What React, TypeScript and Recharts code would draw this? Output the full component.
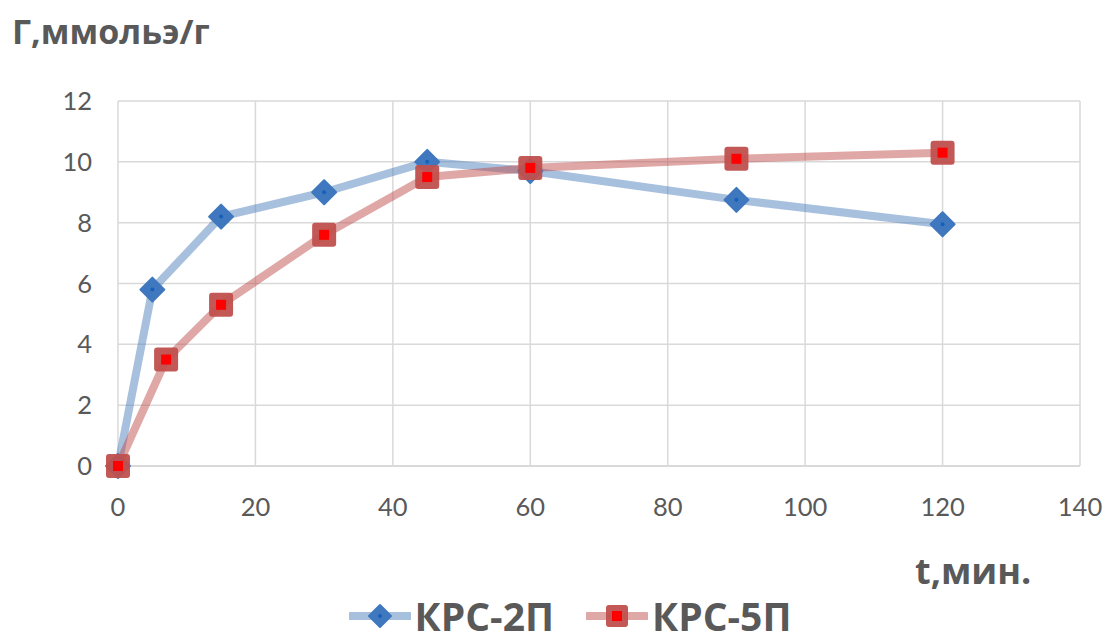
import React from "react";
import {
  LineChart,
  Line,
  XAxis,
  YAxis,
  CartesianGrid,
  Legend,
} from "recharts";

// КРС-2П: sorption capacity over time
const krs2Time = [0, 5, 15, 30, 45, 60, 90, 120];
const krs2Value = [0, 5.8, 8.2, 9.0, 10.0, 9.7, 8.75, 7.95];

// КРС-5П
const krs5Time = [0, 7, 15, 30, 45, 60, 90, 120];
const krs5Value = [0, 3.5, 5.3, 7.6, 9.5, 9.8, 10.1, 10.3];

const xTicks = [0, 20, 40, 60, 80, 100, 120, 140];
const yTicks = [0, 2, 4, 6, 8, 10, 12];

const krs2Data = krs2Time.map((t, i) => ({ t, v: krs2Value[i] }));
const krs5Data = krs5Time.map((t, i) => ({ t, v: krs5Value[i] }));

const BLUE = "#4f81bd";
const BLUE_MARK = "#3f78be";
const RED = "#c0504d";
const TEXT = "#595959";
const TITLE_FONT = "'Open Sans', 'Noto Sans', sans-serif";
const TICK_FONT = "Lato, 'Open Sans', sans-serif";

function Diamond({ cx, cy, size = 12 }: { cx: number; cy: number; size?: number }) {
  return (
    <g>
      <path
        d={`M${cx},${cy - size} L${cx + size},${cy} L${cx},${cy + size} L${cx - size},${cy} Z`}
        fill={BLUE_MARK}
        stroke={BLUE_MARK}
        strokeWidth={2}
        strokeLinejoin="round"
      />
      <circle cx={cx} cy={cy} r={2} fill="#1560b8" />
    </g>
  );
}

function Square({ cx, cy, size = 12 }: { cx: number; cy: number; size?: number }) {
  return (
    <g>
      <rect
        x={cx - size}
        y={cy - size}
        width={size * 2}
        height={size * 2}
        rx={3}
        fill={RED}
        fillOpacity={0.95}
      />
      <rect x={cx - 5} y={cy - 5} width={10} height={10} fill="#ff0000" />
    </g>
  );
}

function LegendContent() {
  const item = (name: string, color: string, marker: React.ReactNode, gap: number) => (
    <div style={{ display: "flex", alignItems: "center", marginRight: gap }}>
      <svg width={62} height={30}>
        <line x1={2} y1={15} x2={60} y2={15} stroke={color} strokeOpacity={0.5} strokeWidth={8} strokeLinecap="round" />
        {marker}
      </svg>
      <span
        style={{
          fontFamily: TITLE_FONT,
          fontWeight: 700,
          fontSize: 39,
          lineHeight: "42px",
          color: TEXT,
          marginLeft: 4,
        }}
      >
        {name}
      </span>
    </div>
  );
  return (
    <div style={{ display: "flex", justifyContent: "center", paddingLeft: 60, paddingTop: 2 }}>
      {item("КРС-2П", BLUE, <Diamond cx={31} cy={15} size={11} />, 32)}
      {item("КРС-5П", RED, <Square cx={31} cy={15} size={11} />, 0)}
    </div>
  );
}

export default function App() {
  return (
    <div
      style={{
        position: "absolute",
        left: 0,
        top: 0,
        width: 1111,
        height: 643,
        background: "#fff",
      }}
    >
      <LineChart
        width={1111}
        height={643}
        margin={{ top: 101, right: 31, left: 0, bottom: 0 }}
      >
        <CartesianGrid stroke="#d9d9d9" strokeWidth={1.5} />
        <XAxis
          type="number"
          dataKey="t"
          domain={[0, 140]}
          ticks={xTicks}
          height={127}
          axisLine={{ stroke: "#d9d9d9", strokeWidth: 2 }}
          tickLine={false}
          tickSize={0}
          tickMargin={32}
          tick={{ fill: TEXT, fontSize: 25.5, fontFamily: TICK_FONT }}
          allowDuplicatedCategory={false}
        />
        <YAxis
          type="number"
          domain={[0, 12]}
          ticks={yTicks}
          width={118}
          axisLine={false}
          tickLine={false}
          tickSize={0}
          tickMargin={26}
          tick={{ fill: TEXT, fontSize: 25.5, fontFamily: TICK_FONT }}
        />
        <Legend verticalAlign="bottom" height={50} content={() => <LegendContent />} />
        <Line
          data={krs2Data}
          dataKey="v"
          name="КРС-2П"
          type="linear"
          stroke={BLUE}
          strokeOpacity={0.5}
          strokeWidth={8}
          strokeLinejoin="round"
          dot={(p: any) => <Diamond key={`d2-${p.index}`} cx={p.cx} cy={p.cy} />}
          activeDot={false}
          isAnimationActive={false}
        />
        <Line
          data={krs5Data}
          dataKey="v"
          name="КРС-5П"
          type="linear"
          stroke={RED}
          strokeOpacity={0.5}
          strokeWidth={8}
          strokeLinejoin="round"
          dot={(p: any) => <Square key={`d5-${p.index}`} cx={p.cx} cy={p.cy} />}
          activeDot={false}
          isAnimationActive={false}
        />
      </LineChart>
      <div
        style={{
          position: "absolute",
          left: 12,
          top: 8,
          fontFamily: TITLE_FONT,
          fontWeight: 700,
          fontSize: 34,
          color: TEXT,
          whiteSpace: "nowrap",
        }}
      >
        Г,ммольэ/г
      </div>
      <div
        style={{
          position: "absolute",
          left: 915,
          top: 546,
          fontFamily: TITLE_FONT,
          fontWeight: 700,
          fontSize: 36,
          color: TEXT,
          whiteSpace: "nowrap",
        }}
      >
        t,мин.
      </div>
    </div>
  );
}
